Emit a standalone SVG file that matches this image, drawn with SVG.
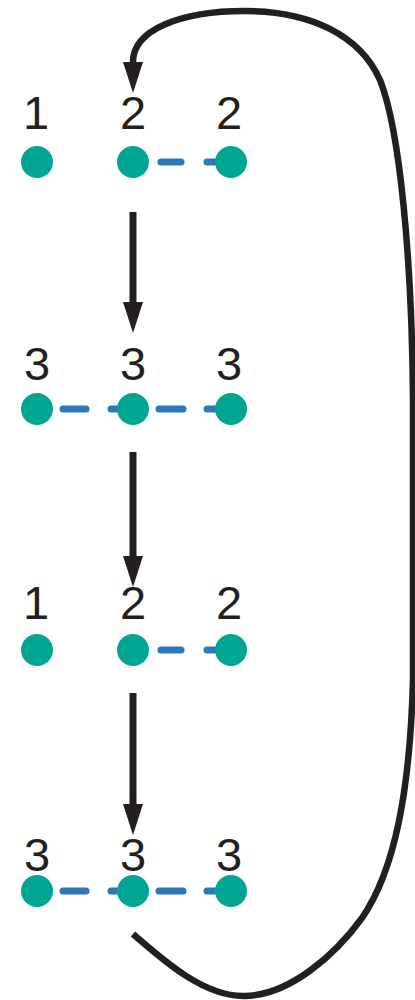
<svg xmlns="http://www.w3.org/2000/svg" width="415" height="1000" viewBox="0 0 415 1000">
  <style>
    .node { fill: #00a692; }
    .lbl { font-family: "Liberation Sans", Arial, sans-serif; font-size: 47px; fill: #231f20; text-anchor: middle; }
    .bond { stroke: #2a79b8; stroke-width: 7; stroke-linecap: round; fill: none; }
    .arrow { stroke: #231f20; stroke-width: 7; fill: none; marker-end: url(#head); }
    .loop { stroke: #231f20; stroke-width: 6.5; fill: none; marker-end: url(#head); }
  </style>
  <defs>
    <marker id="head" markerUnits="userSpaceOnUse" markerWidth="34" markerHeight="24" refX="0" refY="10" orient="auto" viewBox="0 0 34 20">
      <path d="M0,0 L31,10 L0,20 z" fill="#231f20"/>
    </marker>
  </defs>
  <rect width="415" height="1000" fill="#ffffff"/>

  <g id="row1">
    <g id="r1n1"><text class="lbl" x="36" y="129">1</text><circle class="node" cx="37" cy="162" r="16"/></g>
    <line class="bond" x1="161" y1="162" x2="181" y2="162"/>
    <line class="bond" x1="207" y1="162" x2="215" y2="162"/>
    <g id="r1n2"><text class="lbl" x="133" y="129">2</text><circle class="node" cx="133" cy="162" r="16"/></g>
    <g id="r1n3"><text class="lbl" x="229" y="129">2</text><circle class="node" cx="231" cy="162" r="16"/></g>
  </g>

  <g id="row2">
    <line class="bond" x1="63" y1="409" x2="86" y2="409"/>
    <line class="bond" x1="111" y1="409" x2="118" y2="409"/>
    <line class="bond" x1="159" y1="409" x2="183" y2="409"/>
    <line class="bond" x1="207" y1="409" x2="215" y2="409"/>
    <g id="r2n1"><text class="lbl" x="37" y="380">3</text><circle class="node" cx="37" cy="409" r="16"/></g>
    <g id="r2n2"><text class="lbl" x="133" y="380">3</text><circle class="node" cx="133" cy="409" r="16"/></g>
    <g id="r2n3"><text class="lbl" x="229" y="380">3</text><circle class="node" cx="231" cy="409" r="16"/></g>
  </g>

  <g id="row3">
    <g id="r3n1"><text class="lbl" x="36" y="619">1</text><circle class="node" cx="37" cy="650" r="16"/></g>
    <line class="bond" x1="161" y1="650" x2="181" y2="650"/>
    <line class="bond" x1="207" y1="650" x2="215" y2="650"/>
    <g id="r3n2"><text class="lbl" x="133" y="619">2</text><circle class="node" cx="133" cy="650" r="16"/></g>
    <g id="r3n3"><text class="lbl" x="229" y="619">2</text><circle class="node" cx="231" cy="650" r="16"/></g>
  </g>

  <g id="row4">
    <line class="bond" x1="63" y1="891" x2="86" y2="891"/>
    <line class="bond" x1="111" y1="891" x2="118" y2="891"/>
    <line class="bond" x1="159" y1="891" x2="183" y2="891"/>
    <line class="bond" x1="207" y1="891" x2="215" y2="891"/>
    <g id="r4n1"><text class="lbl" x="37" y="871">3</text><circle class="node" cx="37" cy="891" r="16"/></g>
    <g id="r4n2"><text class="lbl" x="133" y="871">3</text><circle class="node" cx="133" cy="891" r="16"/></g>
    <g id="r4n3"><text class="lbl" x="229" y="871">3</text><circle class="node" cx="231" cy="891" r="16"/></g>
  </g>

  <g id="connectors">
    <line class="arrow" x1="133" y1="212" x2="133" y2="302"/>
    <line class="arrow" x1="133" y1="452" x2="133" y2="556"/>
    <line class="arrow" x1="133" y1="693" x2="133" y2="804"/>
    <path class="loop" d="M 133 934 C 165 962, 205 997, 245 996 C 290 995, 335 955, 362 918 C 395 870, 410 790, 413 680 L 413 400 C 412 260, 400 130, 380 80 C 360 35, 310 11, 245 11 C 180 11, 133 30, 133 62"/>
  </g>
</svg>
